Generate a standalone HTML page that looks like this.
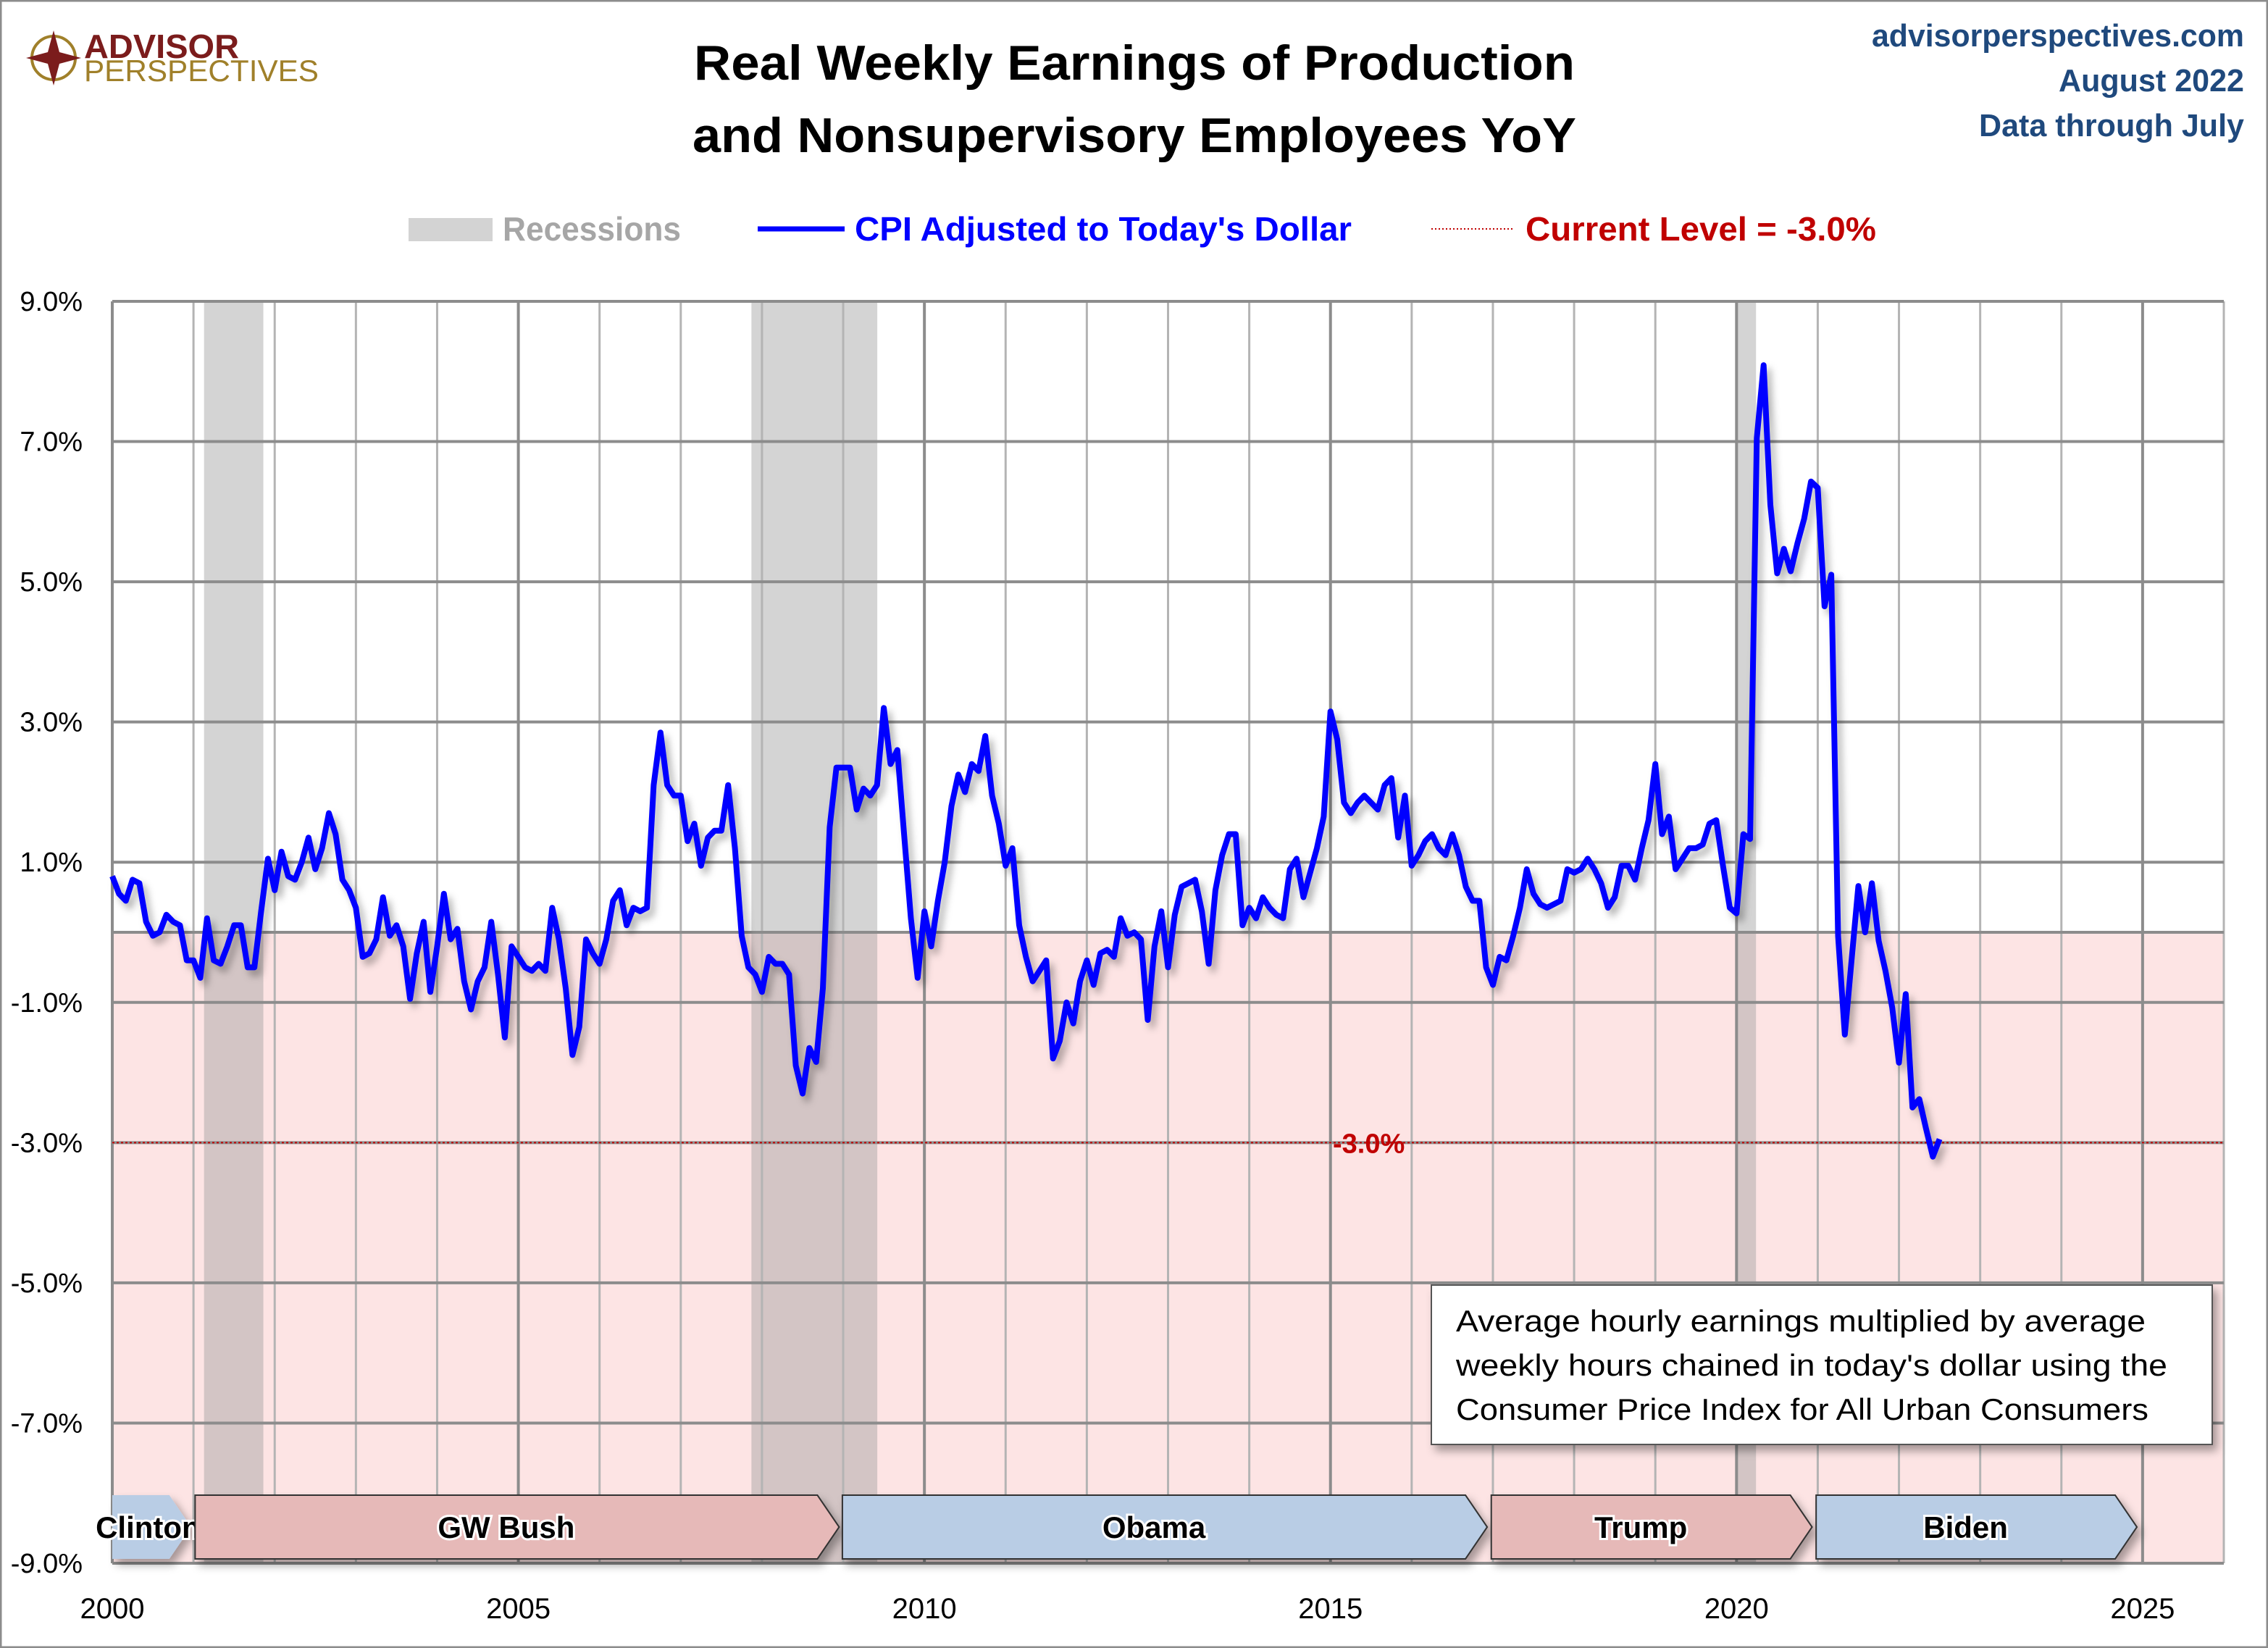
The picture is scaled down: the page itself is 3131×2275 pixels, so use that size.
<!DOCTYPE html>
<html><head><meta charset="utf-8"><style>
html,body{margin:0;padding:0;background:#fff}
svg{display:block}
text{font-family:"Liberation Sans",sans-serif}
</style></head><body>
<svg id="chart" width="3131" height="2275" viewBox="0 0 3131 2275" xmlns="http://www.w3.org/2000/svg">
<defs>
<filter id="sh" x="-5%" y="-5%" width="110%" height="110%"><feDropShadow dx="6" dy="8" stdDeviation="5" flood-color="#000" flood-opacity="0.3"/></filter>
<filter id="bsh" x="-5%" y="-5%" width="115%" height="130%"><feDropShadow dx="6" dy="8" stdDeviation="6" flood-color="#000" flood-opacity="0.35"/></filter>
</defs>
<rect x="1" y="1" width="3129" height="2273" fill="#fff" stroke="#8c8c8c" stroke-width="3"/>
<g id="plot"></g>
<g>
<circle cx="74" cy="80" r="30" fill="none" stroke="#a0802a" stroke-width="4"/>
<polygon points="74,42 82,72 112,80 82,88 74,118 66,88 36,80 66,72" fill="#7b1c1c"/>
<text x="116" y="80" font-size="46" font-weight="bold" fill="#7b1c1c" textLength="214" lengthAdjust="spacingAndGlyphs">ADVISOR</text>
<text x="116" y="112" font-size="42" fill="#a0802a" textLength="324" lengthAdjust="spacingAndGlyphs">PERSPECTIVES</text>
</g>
<text x="1566" y="110" font-size="68" font-weight="bold" text-anchor="middle" textLength="1216" lengthAdjust="spacingAndGlyphs">Real Weekly Earnings of Production</text>
<text x="1566" y="210" font-size="68" font-weight="bold" text-anchor="middle" textLength="1220" lengthAdjust="spacingAndGlyphs">and Nonsupervisory Employees YoY</text>
<text x="3098" y="64" font-size="44" font-weight="bold" fill="#1f497d" text-anchor="end" textLength="514" lengthAdjust="spacingAndGlyphs">advisorperspectives.com</text>
<text x="3098" y="126" font-size="44" font-weight="bold" fill="#1f497d" text-anchor="end" textLength="256" lengthAdjust="spacingAndGlyphs">August 2022</text>
<text x="3098" y="188" font-size="44" font-weight="bold" fill="#1f497d" text-anchor="end" textLength="366" lengthAdjust="spacingAndGlyphs">Data through July</text>
<g>
<rect x="564" y="301" width="116" height="32" fill="#d3d3d3"/>
<text x="694" y="332" font-size="46" font-weight="bold" fill="#a6a6a6" textLength="246" lengthAdjust="spacingAndGlyphs">Recessions</text>
<line x1="1046" y1="316" x2="1166" y2="316" stroke="#0000ff" stroke-width="7"/>
<text x="1180" y="332" font-size="46" font-weight="bold" fill="#0000ff" textLength="686" lengthAdjust="spacingAndGlyphs">CPI Adjusted to Today's Dollar</text>
<line x1="1976" y1="316" x2="2090" y2="316" stroke="#c00000" stroke-width="2" stroke-dasharray="2,3"/>
<text x="2106" y="332" font-size="46" font-weight="bold" fill="#c00000" textLength="484" lengthAdjust="spacingAndGlyphs">Current Level = -3.0%</text>
</g>
</svg>
<script>
const startYear = 2000;
const values = [
0.8,0.55,0.45,0.75,0.7,0.15,-0.05,0.0,0.25,0.15,0.1,-0.4,
-0.4,-0.65,0.2,-0.4,-0.45,-0.2,0.1,0.1,-0.5,-0.5,0.3,1.05,
0.6,1.15,0.8,0.75,1.0,1.35,0.9,1.2,1.7,1.4,0.75,0.6,
0.35,-0.35,-0.3,-0.1,0.5,-0.05,0.1,-0.2,-0.95,-0.3,0.15,-0.85,
-0.2,0.55,-0.1,0.05,-0.7,-1.1,-0.7,-0.5,0.15,-0.6,-1.5,-0.2,
-0.35,-0.5,-0.55,-0.45,-0.55,0.35,-0.1,-0.8,-1.75,-1.35,-0.1,-0.3,
-0.45,-0.1,0.45,0.6,0.1,0.35,0.3,0.35,2.1,2.85,2.1,1.95,
1.95,1.3,1.55,0.95,1.35,1.45,1.45,2.1,1.2,-0.05,-0.5,-0.6,
-0.85,-0.35,-0.45,-0.45,-0.6,-1.9,-2.3,-1.65,-1.85,-0.8,1.5,2.35,
2.35,2.35,1.75,2.05,1.95,2.1,3.2,2.4,2.6,1.4,0.2,-0.65,
0.3,-0.2,0.45,1.0,1.8,2.25,2.0,2.4,2.3,2.8,1.95,1.55,
0.95,1.2,0.1,-0.35,-0.7,-0.55,-0.4,-1.8,-1.55,-1.0,-1.3,-0.7,
-0.4,-0.75,-0.3,-0.25,-0.35,0.2,-0.05,0.0,-0.1,-1.25,-0.2,0.3,
-0.5,0.25,0.65,0.7,0.75,0.3,-0.45,0.6,1.1,1.4,1.4,0.1,
0.35,0.2,0.5,0.35,0.25,0.2,0.9,1.05,0.5,0.85,1.2,1.65,
3.15,2.75,1.85,1.7,1.85,1.95,1.85,1.75,2.1,2.2,1.35,1.95,
0.95,1.1,1.3,1.4,1.2,1.1,1.4,1.1,0.65,0.45,0.45,-0.5,
-0.75,-0.35,-0.4,-0.05,0.35,0.9,0.55,0.4,0.35,0.4,0.45,0.9,
0.85,0.9,1.05,0.9,0.7,0.35,0.5,0.95,0.95,0.75,1.2,1.6,
2.4,1.4,1.65,0.9,1.05,1.2,1.2,1.25,1.55,1.6,0.95,0.35,
0.27,1.4,1.33,7.05,8.09,6.1,5.12,5.47,5.15,5.55,5.9,6.43,
6.34,4.65,5.1,-0.05,-1.46,-0.4,0.66,0.0,0.7,-0.12,-0.55,-1.07,
-1.86,-0.88,-2.5,-2.38,-2.8,-3.2,-2.95
];
const recessionStart = [2001.13, 2007.87, 2019.99];
const recessionEnd = [2001.86, 2009.42, 2020.24];
const presNames = ["Clinton","GW Bush","Obama","Trump","Biden"];
const presStart = [2000.0, 2001.02, 2008.99, 2016.98, 2020.98];
const presEnd = [2000.97, 2008.95, 2016.93, 2020.93, 2024.93];
const presColor = ["#b9cde5","#e6b9b8","#b9cde5","#e6b9b8","#b9cde5"];
const yTicks = [9,7,5,3,1,-1,-3,-5,-7,-9];
const yTickLabels = ["9.0%","7.0%","5.0%","3.0%","1.0%","-1.0%","-3.0%","-5.0%","-7.0%","-9.0%"];
const xTicks = [2000,2005,2010,2015,2020,2025];
const currentLevel = -3.0;

const L=155, R=3070, T=416, B=2158, X0=2000, X1=2026, YMAX=9, YMIN=-9;
const xs = t => L + (t - X0) / (X1 - X0) * (R - L);
const ys = v => T + (YMAX - v) / (YMAX - YMIN) * (B - T);
const NS="http://www.w3.org/2000/svg";
const plot=document.getElementById('plot');
function mk(tag, attrs, parent){const e=document.createElementNS(NS,tag);for(const k in attrs)e.setAttribute(k,attrs[k]);(parent||plot).appendChild(e);return e;}

let e;
e=mk('rect',{x:L,y:ys(0),width:R-L,height:B-ys(0),fill:'#fde4e4'});


for(let i=0;i<recessionStart.length;i++){
  e=mk('rect',{x:xs(recessionStart[i]),y:T,width:xs(recessionEnd[i])-xs(recessionStart[i]),height:B-T,fill:'#a0a0a0','fill-opacity':0.45});
  
  
}
for(let yr=X0;yr<=X1;yr++){
  e=mk('line',{x1:xs(yr),x2:xs(yr),y1:T,y2:B,stroke:(yr%5===0)?'#8c8c8c':'#b4b4b4','stroke-width':(yr%5===0)?4:3});
  
  
}
const hl=yTicks.concat([0]);
for(const v of hl){
  e=mk('line',{x1:L,x2:R,y1:ys(v),y2:ys(v),stroke:'#8c8c8c','stroke-width':4});
  
  
}
e=mk('line',{x1:L,x2:L,y1:T,y2:B,stroke:'#8c8c8c','stroke-width':4});


yTicks.forEach((v,i)=>{
  e=mk('text',{x:114,y:ys(v)+13,'font-size':38,'text-anchor':'end',fill:'#000'});
  e.textContent=yTickLabels[i];
  
  
});
xTicks.forEach(v=>{
  e=mk('text',{x:xs(v),y:2234,'font-size':40,'text-anchor':'middle',fill:'#000'});
  e.textContent=String(v);
  
  
});
e=mk('line',{x1:L,x2:R,y1:ys(currentLevel),y2:ys(currentLevel),stroke:'#c00000','stroke-width':2,'stroke-dasharray':'3,3'});


e=mk('text',{x:1840,y:ys(currentLevel)+14,'font-size':38,'font-weight':'bold',fill:'#c00000'});
e.textContent='-3.0%';



const pts=values.map((v,i)=>xs(startYear+i/12).toFixed(1)+','+ys(v).toFixed(1)).join(' ');
e=mk('polyline',{points:pts,fill:'none',stroke:'#0000ff','stroke-width':8,'stroke-linejoin':'round',filter:'url(#sh)'});



const pTop=2064, pBot=2152, tip=30;
presNames.forEach((n,i)=>{
  const x0=xs(presStart[i]), x1=xs(presEnd[i]);
  const g=mk('g',{filter:'url(#bsh)'});
  
  
  const p=mk('polygon',{points:`${x0},${pTop} ${x1-tip},${pTop} ${x1},${(pTop+pBot)/2} ${x1-tip},${pBot} ${x0},${pBot}`,fill:presColor[i],stroke:i===0?'none':'#333','stroke-width':2},g);
  
  
  const t=mk('text',{x:(x0+x1-tip)/2+(i===0?10:0),y:(pTop+pBot)/2+15,'font-size':42,'font-weight':'bold','text-anchor':'middle',fill:'#000',stroke:'#fff','stroke-width':6,'paint-order':'stroke'});
  t.textContent=n;
  
  
});

const nb=mk('g',{});


e=mk('rect',{x:1976,y:1774,width:1078,height:220,fill:'#fff',stroke:'#555','stroke-width':2,filter:'url(#bsh)'},nb);


const noteLines=["Average hourly earnings multiplied by average","weekly hours chained in today's dollar using the","Consumer Price Index for All Urban Consumers"];
const noteLen=[952,982,956];
noteLines.forEach((s,i)=>{
  e=mk('text',{x:2010,y:1838+i*61,'font-size':42,fill:'#000',textLength:noteLen[i],lengthAdjust:'spacingAndGlyphs'},nb);
  e.textContent=s;
  
  
});
</script>
</body></html>
